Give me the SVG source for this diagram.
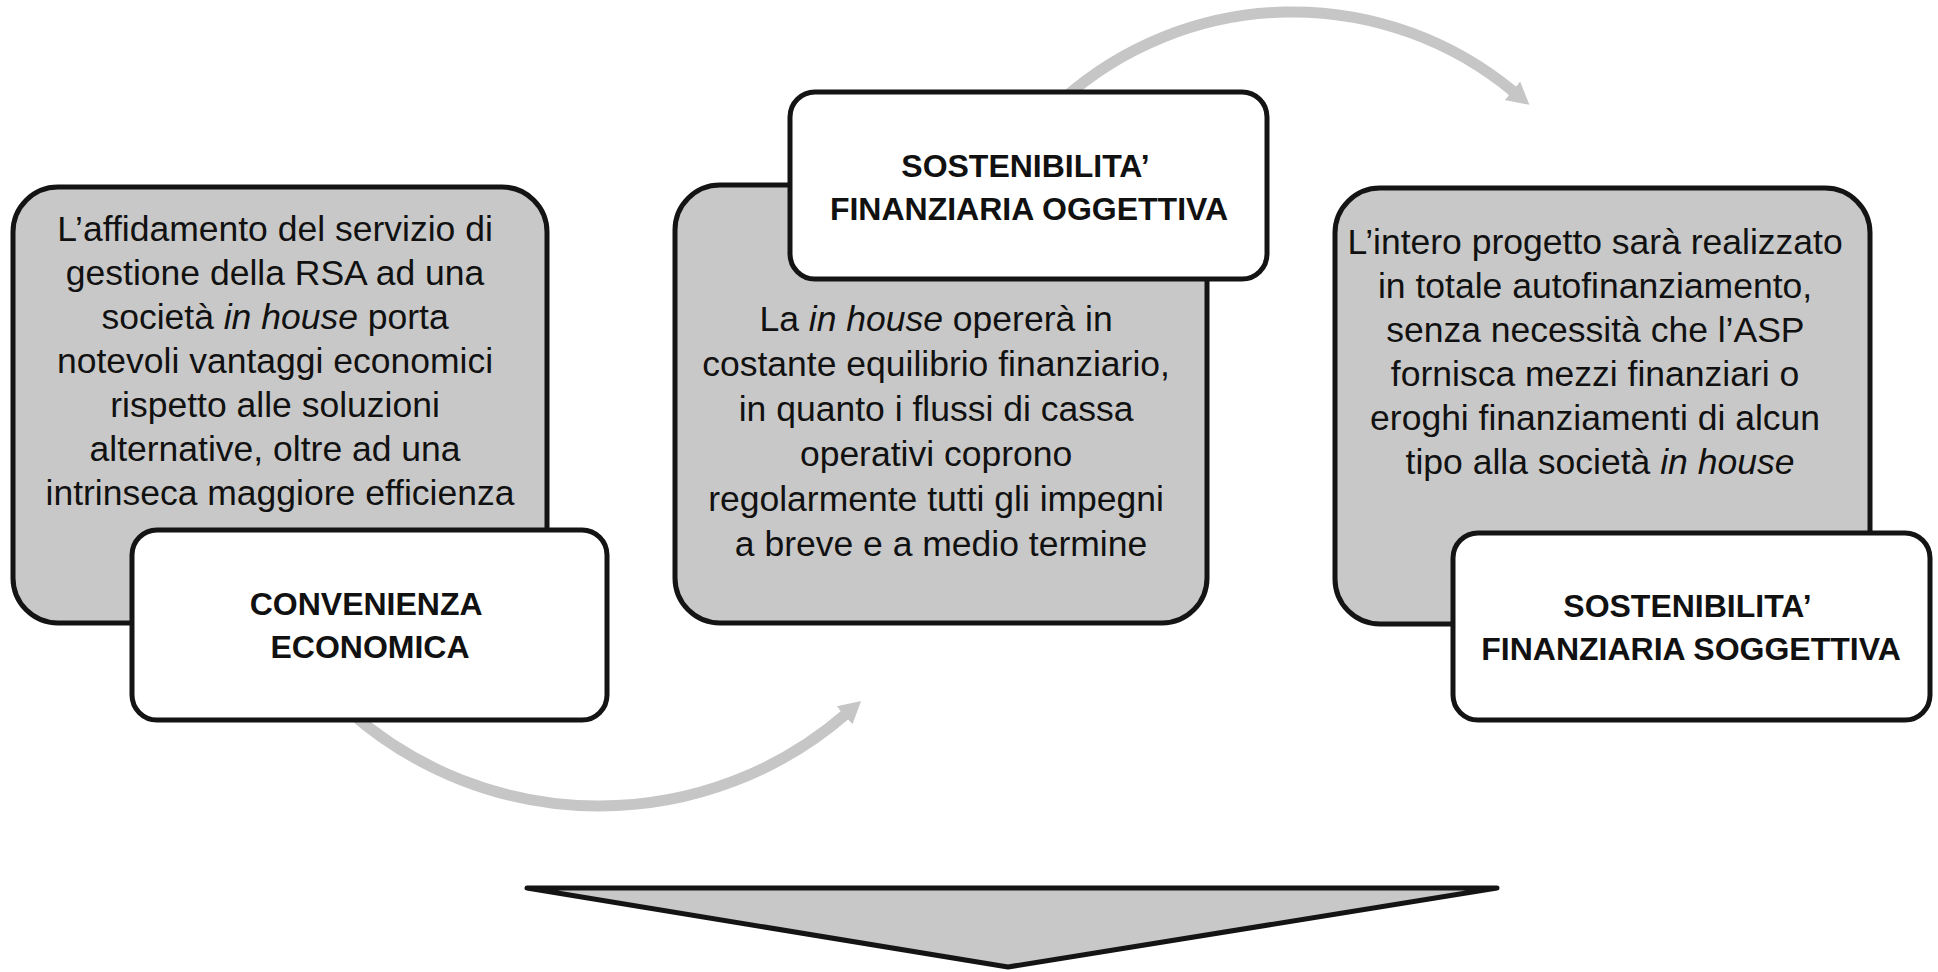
<svg xmlns="http://www.w3.org/2000/svg" width="1938" height="972" viewBox="0 0 1938 972">
  <defs>
    <style>
      .gray { fill: #c8c8c8; stroke: #141414; stroke-width: 5; }
      .white { fill: #ffffff; stroke: #141414; stroke-width: 5; }
      .body { font-family: "Liberation Sans", Arial, sans-serif; font-size: 35.5px; fill: #111; text-anchor: middle; }
      .label { font-family: "Liberation Sans", Arial, sans-serif; font-size: 32px; font-weight: bold; fill: #111; text-anchor: middle; }
      .it { font-style: italic; }
      .arc { fill: none; stroke: #c6c6c6; stroke-width: 11; }
    </style>
    <marker id="head" markerUnits="userSpaceOnUse" markerWidth="30" markerHeight="30" refX="2" refY="12" orient="auto">
      <path d="M0,0 L22,12 L0,24 Z" fill="#c6c6c6"/>
    </marker>
  </defs>
  <rect width="1938" height="972" fill="#ffffff"/>

  <g id="connectors">
    <path class="arc" d="M 350 712 A 377 377 0 0 0 846 714" marker-end="url(#head)"/>
    <path class="arc" d="M 1062 100 A 346 346 0 0 1 1514 92" marker-end="url(#head)"/>
  </g>

  <g id="convenienza">
    <rect class="gray" x="13" y="187" width="534" height="436" rx="45"/>
    <text class="body">
      <tspan x="280" y="241">L’affidamento del servizio di</tspan>
      <tspan x="280" y="285">gestione della RSA ad una</tspan>
      <tspan x="280" y="329">società <tspan class="it">in house</tspan> porta</tspan>
      <tspan x="280" y="373">notevoli vantaggi economici</tspan>
      <tspan x="280" y="417">rispetto alle soluzioni</tspan>
      <tspan x="280" y="461">alternative, oltre ad una</tspan>
      <tspan x="280" y="505">intrinseca maggiore efficienza</tspan>
    </text>
    <rect class="white" x="132" y="530" width="475" height="190" rx="25"/>
    <text class="label">
      <tspan x="370" y="615">CONVENIENZA</tspan>
      <tspan x="370" y="658">ECONOMICA</tspan>
    </text>
  </g>

  <g id="sostenibilita-oggettiva">
    <rect class="gray" x="675" y="185" width="532" height="438" rx="45"/>
    <text class="body">
      <tspan x="941" y="331">La <tspan class="it">in house</tspan> opererà in</tspan>
      <tspan x="941" y="376">costante equilibrio finanziario,</tspan>
      <tspan x="941" y="421">in quanto i flussi di cassa</tspan>
      <tspan x="941" y="466">operativi coprono</tspan>
      <tspan x="941" y="511">regolarmente tutti gli impegni</tspan>
      <tspan x="941" y="556">a breve e a medio termine</tspan>
    </text>
    <rect class="white" x="790" y="92" width="477" height="187" rx="25"/>
    <text class="label">
      <tspan x="1029" y="177">SOSTENIBILITA’</tspan>
      <tspan x="1029" y="220">FINANZIARIA OGGETTIVA</tspan>
    </text>
  </g>

  <g id="sostenibilita-soggettiva">
    <rect class="gray" x="1335" y="188" width="535" height="436" rx="45"/>
    <text class="body">
      <tspan x="1600" y="254">L’intero progetto sarà realizzato</tspan>
      <tspan x="1600" y="298">in totale autofinanziamento,</tspan>
      <tspan x="1600" y="342">senza necessità che l’ASP</tspan>
      <tspan x="1600" y="386">fornisca mezzi finanziari o</tspan>
      <tspan x="1600" y="430">eroghi finanziamenti di alcun</tspan>
      <tspan x="1600" y="474">tipo alla società <tspan class="it">in house</tspan></tspan>
    </text>
    <rect class="white" x="1453" y="533" width="477" height="187" rx="25"/>
    <text class="label">
      <tspan x="1691" y="617">SOSTENIBILITA’</tspan>
      <tspan x="1691" y="660">FINANZIARIA SOGGETTIVA</tspan>
    </text>
  </g>

  <g id="result-arrow">
    <polygon points="527,888 1497,888 1008,967" fill="#c8c8c8" stroke="#141414" stroke-width="5" stroke-linejoin="round"/>
  </g>
</svg>
